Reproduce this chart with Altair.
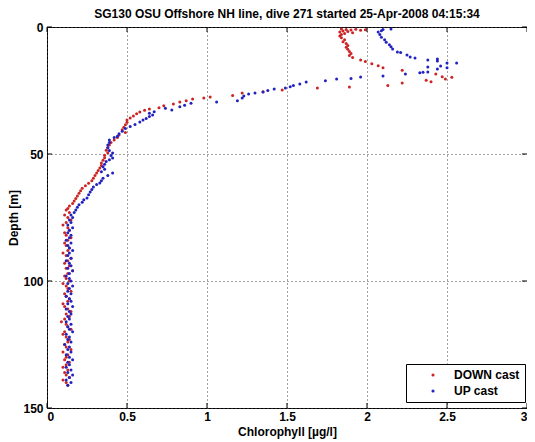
import altair as alt
import pandas as pd

# DOWN cast (depth m, chlorophyll ug/l)
down_depth = [0.8, 1.0, 1.2, 0.9, 1.3, 1.1, 1.6, 2.0, 1.8, 2.3, 2.6, 3.0, 3.5, 4.2, 5.0, 5.8, 6.5, 7.3,
              8.0, 8.8, 9.6, 10.4, 11.2, 12.0, 13.0, 13.6, 14.5, 15.3, 16.0, 17.0, 18.5, 19.6, 20.5, 19.8,
              21.0, 21.6, 22.0, 23.0, 23.6, 24.0, 24.8, 25.5, 26.0, 27.0, 27.6, 28.0, 28.3, 29.0, 29.5,
              30.3, 31.0, 31.8, 32.3, 32.8, 33.5, 34.2, 35.0, 35.8, 36.6, 37.5, 38.5, 39.5, 40.5, 41.5,
              42.5, 43.5, 44.5, 45.5, 46.5, 47.5, 48.5, 49.5, 50.5, 51.5, 52.5, 53.5, 54.5, 55.5, 56.5,
              57.5, 58.5, 59.5, 60.5, 61.5, 62.5, 63.5, 64.5, 65.5, 66.5, 67.5, 68.5, 69.5, 70.5, 71.5,
              72, 73, 74, 75, 76, 77, 78, 79, 80, 81, 82, 83, 84, 85, 86, 87, 88, 89, 90, 91, 92, 93, 94,
              95, 96, 97, 98, 99, 100, 101, 102, 103, 104, 105, 106, 107, 108, 109, 110, 111, 112, 113,
              114, 115, 116, 117, 118, 119, 120, 121, 122, 123, 124, 125, 126, 127, 128, 129, 130, 131,
              132, 133, 134, 135, 136, 137, 138, 139, 140, 141]
down_chl = [1.84, 1.87, 1.90, 1.93, 1.96, 1.99, 1.85, 1.83, 1.88, 1.91, 1.86, 1.84, 1.83, 1.84, 1.86, 1.85,
            1.87, 1.88, 1.87, 1.88, 1.89, 1.90, 1.89, 1.91, 1.96, 1.99, 2.03, 2.07, 2.10, 2.22, 2.43, 2.47,
            2.49, 2.53, 2.37, 2.40, 2.22, 2.13, 1.89, 1.69, 1.47, 1.35, 1.22, 1.16, 1.02, 0.98, 0.91, 0.87,
            0.83, 0.79, 0.73, 0.70, 0.64, 0.61, 0.58, 0.56, 0.54, 0.52, 0.50, 0.50, 0.49, 0.48, 0.47, 0.49,
            0.45, 0.44, 0.42, 0.40, 0.39, 0.38, 0.37, 0.38, 0.36, 0.36, 0.35, 0.34, 0.34, 0.33, 0.32, 0.31,
            0.30, 0.29, 0.28, 0.26, 0.24, 0.22, 0.21, 0.20, 0.19, 0.18, 0.17, 0.16, 0.14, 0.13,
            0.12, 0.14, 0.11, 0.13, 0.15, 0.12, 0.10, 0.13, 0.14, 0.11, 0.12, 0.15, 0.13, 0.11, 0.12, 0.14,
            0.13, 0.10, 0.12, 0.15, 0.13, 0.11, 0.14, 0.12, 0.16, 0.13, 0.11, 0.12, 0.14, 0.10, 0.12, 0.13,
            0.15, 0.11, 0.12, 0.14, 0.13, 0.10, 0.11, 0.13, 0.15, 0.12, 0.14, 0.11, 0.09, 0.12, 0.13, 0.15,
            0.11, 0.10, 0.12, 0.14, 0.13, 0.11, 0.12, 0.15, 0.10, 0.13, 0.12, 0.11, 0.14, 0.12, 0.10, 0.13,
            0.11, 0.12, 0.14, 0.10, 0.12, 0.13]

# UP cast
up_depth = [141, 140, 139, 138, 137, 136, 135, 134, 133, 132, 131, 130, 129, 128, 127, 126, 125, 124, 123,
            122, 121, 120, 119, 118, 117, 116, 115, 114, 113, 112, 111, 110, 109, 108, 107, 106, 105, 104,
            103, 102, 101, 100, 99, 98, 97, 96, 95, 94, 93, 92, 91, 90, 89, 88, 87, 86, 85, 84, 83, 82, 81,
            80, 79, 78, 77, 76, 75, 74, 73, 72,
            71, 70, 69, 68, 67.3, 66, 65, 64, 63, 62, 61.4, 60.5, 59.5, 58.5, 57.5, 57, 56, 55, 54, 53,
            52.3, 51.6, 50.6, 49.6, 48.6, 47.5, 46.5, 45.5, 44.5, 43.5, 43, 42, 41, 40, 39.2, 38.4, 37.4,
            36.6, 36, 35.2, 34.6, 34, 33.4, 32.7, 32, 31.4, 30.8, 30, 29.5, 29, 28, 27.2, 26.4, 26, 25.6,
            25, 24.4, 24, 23.5, 23, 22.4, 21.7, 21.2, 20.5, 20.3, 19.7, 19.3, 18.5, 18, 17.8, 17.7, 16.5,
            16, 15.7, 15.4, 14.2, 14.2, 13, 12.6, 13.4, 12.2, 11.8, 11, 10, 9.8, 8.7, 7.8, 7, 6, 5, 4, 3,
            2, 1.5, 1, 0.8]
up_chl = [0.13, 0.15, 0.12, 0.14, 0.16, 0.13, 0.15, 0.12, 0.14, 0.13, 0.16, 0.14, 0.12, 0.15, 0.13, 0.14,
          0.11, 0.15, 0.13, 0.14, 0.12, 0.16, 0.14, 0.13, 0.15, 0.12, 0.14, 0.13, 0.15, 0.14, 0.12, 0.16,
          0.13, 0.15, 0.14, 0.12, 0.15, 0.13, 0.14, 0.16, 0.13, 0.15, 0.14, 0.12, 0.14, 0.16, 0.13, 0.15,
          0.14, 0.12, 0.15, 0.13, 0.14, 0.16, 0.14, 0.13, 0.15, 0.12, 0.14, 0.15, 0.13, 0.14, 0.16, 0.13,
          0.15, 0.14, 0.16, 0.15, 0.17, 0.18,
          0.19, 0.20, 0.22, 0.23, 0.25, 0.26, 0.27, 0.28, 0.29, 0.31, 0.33, 0.34, 0.35, 0.38, 0.41, 0.34,
          0.36, 0.35, 0.36, 0.37, 0.39, 0.41, 0.40, 0.41, 0.39, 0.38, 0.38, 0.39, 0.39, 0.42, 0.44, 0.45,
          0.47, 0.49, 0.52, 0.55, 0.58, 0.60, 0.62, 0.64, 0.66, 0.64, 0.67, 0.78, 0.74, 0.83, 0.86, 0.90,
          1.06, 1.19, 1.22, 1.23, 1.26, 1.30, 1.35, 1.38, 1.42, 1.49, 1.52, 1.54, 1.58, 1.62, 1.74, 1.81,
          1.90, 1.96, 2.10, 2.24, 2.33, 2.35, 2.38, 2.44, 2.50, 2.38, 2.46, 2.50, 2.56, 2.38, 2.44, 2.44,
          2.30, 2.27, 2.25, 2.21, 2.19, 2.16, 2.15, 2.14, 2.12, 2.11, 2.09, 2.08, 2.07, 2.09, 2.10, 2.15]

x_ticks = [0, 0.5, 1, 1.5, 2, 2.5, 3]
y_ticks = [0, 50, 100, 150]
cast_names = ["DOWN cast", "UP cast"]
cast_colors = ["#cc2424", "#2222c0"]

df = pd.concat([
    pd.DataFrame({"depth": down_depth, "chl": down_chl, "cast": cast_names[0]}),
    pd.DataFrame({"depth": up_depth, "chl": up_chl, "cast": cast_names[1]}),
])

W, H = 480, 381
FONT = "Liberation Sans"

xs = alt.Scale(domain=[0, 3], nice=False, zero=False)
ys = alt.Scale(domain=[0, 150], reverse=True, nice=False, zero=False)

points = alt.Chart(df).mark_point(filled=True, shape="circle", size=9, opacity=1).encode(
    x=alt.X("chl:Q", scale=xs,
            axis=alt.Axis(values=x_ticks, format=".1~f", title="Chlorophyll [µg/l]")),
    y=alt.Y("depth:Q", scale=ys,
            axis=alt.Axis(values=y_ticks, title="Depth [m]")),
    color=alt.Color("cast:N", scale=alt.Scale(domain=cast_names, range=cast_colors),
                    legend=alt.Legend(title=None, orient="none", legendX=359, legendY=337,
                                      strokeColor="black", fillColor="white", padding=5,
                                      symbolOffset=16, symbolSize=10, labelOffset=15,
                                      labelFont=FONT, labelFontSize=12, labelFontWeight="bold",
                                      labelColor="black", rowPadding=4, labelLimit=200)),
)

xt = pd.DataFrame({"t": x_ticks})
yt = pd.DataFrame({"t": y_ticks})
tick_x_bot = alt.Chart(xt).mark_rule(color="black").encode(
    x=alt.X("t:Q", scale=xs), y=alt.value(H), y2=alt.value(H - 5))
tick_x_top = alt.Chart(xt).mark_rule(color="black").encode(
    x=alt.X("t:Q", scale=xs), y=alt.value(0), y2=alt.value(5))
tick_y_left = alt.Chart(yt).mark_rule(color="black").encode(
    y=alt.Y("t:Q", scale=ys), x=alt.value(0), x2=alt.value(5))
tick_y_right = alt.Chart(yt).mark_rule(color="black").encode(
    y=alt.Y("t:Q", scale=ys), x=alt.value(W), x2=alt.value(W - 5))

chart = alt.layer(points, tick_x_bot, tick_x_top, tick_y_left, tick_y_right).properties(
    width=W, height=H,
    title=alt.Title("SG130 OSU Offshore NH line, dive 271 started 25-Apr-2008 04:15:34",
                    font=FONT, fontSize=12, fontWeight="bold", color="black", offset=0),
    autosize=alt.AutoSizeParams(type="none"),
    padding={"left": 39, "top": 19, "right": 0, "bottom": 31},
).configure_view(stroke="black", strokeWidth=1).configure_axis(
    grid=True, gridColor="#444", gridDash=[1, 3], gridOpacity=1, gridWidth=1,
    ticks=False, domain=False, labelFont=FONT, labelFontSize=12, labelFontWeight="bold",
    labelColor="black", titleFont=FONT, titleFontSize=12, titleFontWeight="bold",
    titleColor="black",
).configure_axisX(labelPadding=3, titlePadding=4).configure_axisY(labelPadding=4, titlePadding=2)

chart.save("out.html", embed_options={"renderer": "svg", "actions": False})
